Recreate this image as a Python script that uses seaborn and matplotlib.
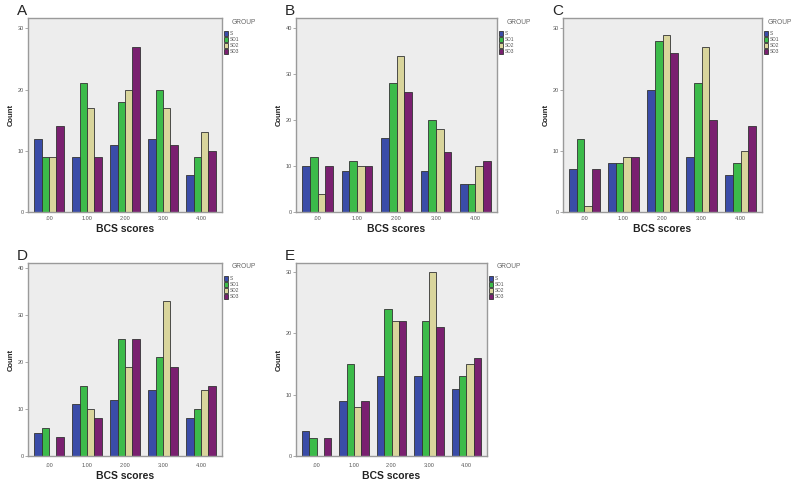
import pandas as pd
import matplotlib
matplotlib.use('Agg')
import matplotlib.pyplot as plt
import seaborn as sns

# datos
scores = ['.00', '1.00', '2.00', '3.00', '4.00']
groups = ['S', 'SD1', 'SD2', 'SD3']

a_s = [12, 9, 11, 12, 6]
a_sd1 = [9, 21, 18, 20, 9]
a_sd2 = [9, 17, 20, 17, 13]
a_sd3 = [14, 9, 27, 11, 10]

b_s = [10, 9, 16, 9, 6]
b_sd1 = [12, 11, 28, 20, 6]
b_sd2 = [4, 10, 34, 18, 10]
b_sd3 = [10, 10, 26, 13, 11]

c_s = [7, 8, 20, 9, 6]
c_sd1 = [12, 8, 28, 21, 8]
c_sd2 = [1, 9, 29, 27, 10]
c_sd3 = [7, 9, 26, 15, 14]

d_s = [5, 11, 12, 14, 8]
d_sd1 = [6, 15, 25, 21, 10]
d_sd2 = [0, 10, 19, 33, 14]
d_sd3 = [4, 8, 25, 19, 15]

e_s = [4, 9, 13, 13, 11]
e_sd1 = [3, 15, 24, 22, 13]
e_sd2 = [0, 8, 22, 30, 15]
e_sd3 = [3, 9, 22, 21, 16]

colors = ['#3a4ca8', '#3cbb4a', '#d9d59c', '#7a2070']

W, H = 796, 482
# (letra, series, caja en pixeles: izq, arriba, der, abajo, ymax, ticks, pads)
panels = [
    ('A', [a_s, a_sd1, a_sd2, a_sd3], (28, 18, 222, 212), 31.7, [0, 10, 20, 30], 3, 2),
    ('B', [b_s, b_sd1, b_sd2, b_sd3], (296, 18, 497, 212), 42.2, [0, 10, 20, 30, 40], 3, 2),
    ('C', [c_s, c_sd1, c_sd2, c_sd3], (563, 18, 762, 212), 31.7, [0, 10, 20, 30], 3, 2),
    ('D', [d_s, d_sd1, d_sd2, d_sd3], (28, 263, 222, 456), 41.1, [0, 10, 20, 30, 40], 5, 2),
    ('E', [e_s, e_sd1, e_sd2, e_sd3], (296, 263, 487, 456), 31.5, [0, 10, 20, 30], 5, 2),
]

sns.set_style("white")
plt.rcParams['font.family'] = ['Liberation Sans', 'DejaVu Sans']
fig = plt.figure(figsize=(W / 100, H / 100), dpi=100)

for letter, series, box, ymax, yticks, xpad, lpad in panels:
    l, t, r, b = box
    ax = fig.add_axes([l / W, 1 - b / H, (r - l) / W, (b - t) / H])
    rows = []
    for g, vals in zip(groups, series):
        for s, v in zip(scores, vals):
            rows.append({'BCS scores': s, 'GROUP': g, 'Count': v})
    df = pd.DataFrame(rows)
    sns.barplot(data=df, x='BCS scores', y='Count', hue='GROUP', palette=colors,
                order=scores, hue_order=groups, width=0.78, ax=ax,
                edgecolor='#333333', linewidth=0.6, saturation=1)
    ax.set_facecolor('#ededed')
    ax.set_ylim(0, ymax)
    ax.set_yticks(yticks)
    ax.set_xlim(-0.55, 4.55)
    for sp in ax.spines.values():
        sp.set_color('#9a9a9a')
        sp.set_linewidth(1.0)
    ax.tick_params(axis='y', labelsize=4, colors='#888888', length=2, width=0.5,
                   labelcolor='#555555', pad=1, left=True)
    ax.tick_params(axis='x', labelsize=4, length=0, labelcolor='#555555', pad=xpad)
    ax.set_xlabel('BCS scores', fontsize=7.5, fontweight='bold', color='#222222', labelpad=lpad)
    ax.set_ylabel('Count', fontsize=5.5, fontweight='bold', color='#222222', labelpad=2)
    w = r - l
    hgt = b - t
    leg = ax.legend(loc='upper left', bbox_to_anchor=(1 + 2 / w, 1 - 13 / hgt),
                    frameon=False, fontsize=3.5,
                    handlelength=0.9, handleheight=1.2, handletextpad=0.2,
                    labelspacing=0.15, borderpad=0, borderaxespad=0)
    for txt in leg.get_texts():
        txt.set_color('#555555')
    gx = min(r + 10, 768)
    ax.text((gx - l) / w, 1 - 4 / hgt, 'GROUP', transform=ax.transAxes, fontsize=4.8,
            color='#666666', va='center', ha='left')
    fig.text((l - 11) / W, 1 - (t - 3) / H, letter, fontsize=11, va='baseline', ha='left')

plt.savefig('out.png', dpi=100)
plt.close()
